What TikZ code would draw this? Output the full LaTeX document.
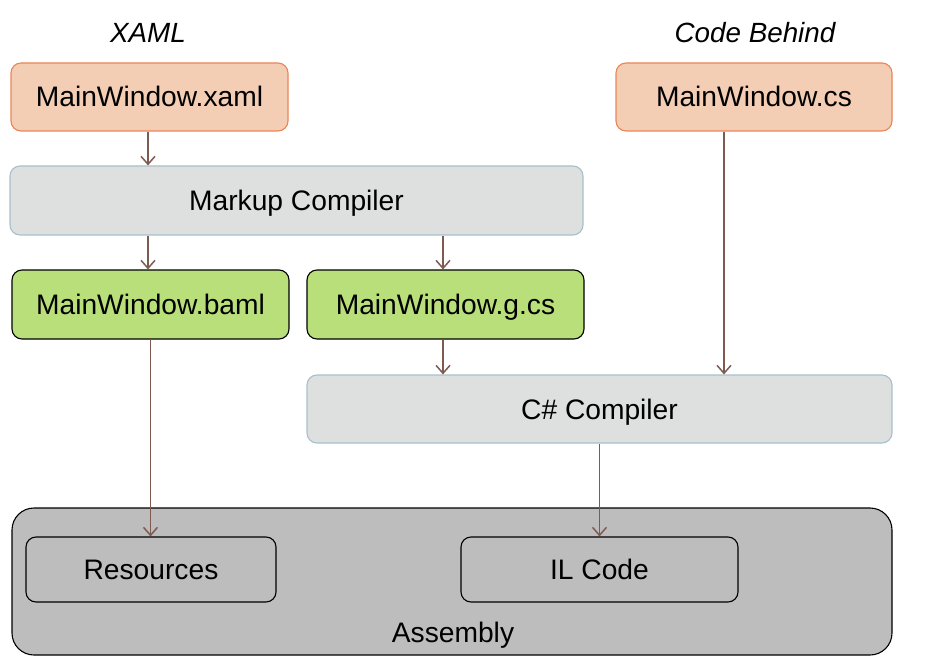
\documentclass[tikz,border=0pt]{standalone}
\usepackage{fontspec}
\setmainfont{Liberation Sans}
\usetikzlibrary{arrows.meta}
\definecolor{srcfill}{HTML}{F4CEB4}
\definecolor{srcdraw}{HTML}{EA8556}
\definecolor{compfill}{HTML}{DEE0E0}
\definecolor{compdraw}{HTML}{A7C0CC}
\definecolor{genfill}{HTML}{B8DF79}
\definecolor{asmfill}{HTML}{BDBDBD}
\definecolor{arrowcol}{HTML}{7D5B50}
\tikzset{
  box/.style={rounded corners=10pt, line width=1.1pt, font=\fontsize{28.2}{30}\selectfont,
    inner sep=0pt, text height=20pt, text depth=0pt, anchor=center},
  srcbox/.style={box, fill=srcfill, draw=srcdraw},
  compbox/.style={box, fill=compfill, draw=compdraw},
  genbox/.style={box, fill=genfill, draw=black},
  partbox/.style={box, fill=asmfill, draw=black},
  caption/.style={font=\fontsize{27.8}{30}\selectfont\itshape, text height=20pt, text depth=0pt},
  arr/.style={draw=arrowcol, line width=1.5pt, -{Straight Barb[length=8pt,width=14pt]}}
}
\begin{document}
\begin{tikzpicture}[x=1pt,y=-1pt]
\useasboundingbox (0,0) rectangle (929,671);

% source files
\node[caption] (xamlcap) at (148,33) {XAML};
\node[caption] (cscap) at (755,33) {Code Behind};
\node[srcbox, minimum width=277pt, minimum height=68pt] (xaml) at (149.5,97) {MainWindow.xaml};
\node[srcbox, minimum width=276pt, minimum height=68pt] (cs) at (754,97) {MainWindow.cs};

% compilers and generated files
\node[compbox, minimum width=573pt, minimum height=69pt] (markup) at (296.5,200.5) {Markup Compiler};
\node[genbox, minimum width=277pt, minimum height=69pt] (baml) at (150.5,304.5) {MainWindow.baml};
\node[genbox, minimum width=277pt, minimum height=69pt] (gcs) at (445.5,304.5) {MainWindow.g.cs};
\node[compbox, minimum width=585pt, minimum height=68pt] (csc) at (599.5,409) {C\# Compiler};

% assembly
\node[box, fill=asmfill, draw=black, rounded corners=22pt, minimum width=880pt, minimum height=147pt] (asm) at (452,581.5) {};
\node[partbox, minimum width=250pt, minimum height=65pt] (res) at (151,569.5) {Resources};
\node[partbox, minimum width=277pt, minimum height=65pt] (il) at (599.5,569.5) {IL Code};
\node[font=\fontsize{28.2}{30}\selectfont, text height=20pt, text depth=0pt] (asmlabel) at (453,632) {Assembly};

% flow
\draw[arr] ([xshift=-1.5pt]xaml.south) -- ([xshift=-1.5pt]xaml.south |- markup.north);
\draw[arr] ([xshift=-2.5pt]baml.north |- markup.south) -- ([xshift=-2.5pt]baml.north);
\draw[arr] ([xshift=-2.5pt]gcs.north |- markup.south) -- ([xshift=-2.5pt]gcs.north);
\draw[arr] ([xshift=-2.5pt]gcs.south) -- ([xshift=-2.5pt]gcs.south |- csc.north);
\draw[arr] ([xshift=-30pt]cs.south) -- ([xshift=-30pt]cs.south |- csc.north);
\draw[arr] (baml.south) -- (baml.south |- res.north);
\draw[arr] (csc.south) -- (csc.south |- il.north);
\end{tikzpicture}
\end{document}
